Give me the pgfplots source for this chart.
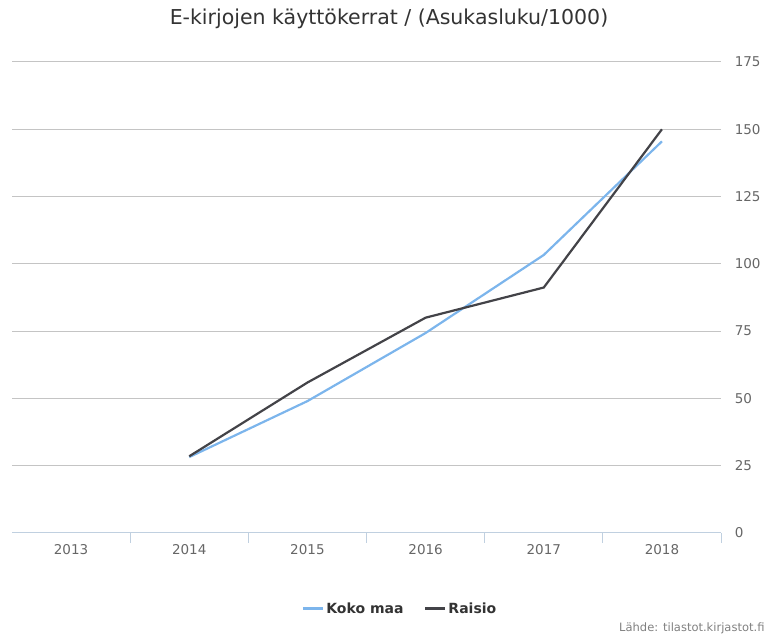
\documentclass[border=0pt]{standalone}
\usepackage{fontspec}
\setmainfont{DejaVu Sans}
\usepackage{pgfplots}
\pgfplotsset{compat=1.18}
\definecolor{kokomaa}{HTML}{7CB5EC}
\definecolor{raisio}{HTML}{434348}
\definecolor{gridc}{HTML}{C4C4C4}
\definecolor{axisc}{HTML}{C0D0E0}
\definecolor{txt}{HTML}{333333}
\definecolor{lbl}{HTML}{666666}
\begin{document}
\begin{tikzpicture}[x=1bp,y=1bp]
\path[use as bounding box] (0,0) rectangle (769,635);
\node[text=txt,font=\fontsize{20.5bp}{24bp}\selectfont] at (389,616) {E-kirjojen käyttökerrat / (Asukasluku/1000)};
\node[anchor=east,text=gray,font=\fontsize{11.5bp}{13bp}\selectfont] at (768,7) {Lähde: tilastot.kirjastot.fi};
\begin{axis}[
  at={(12bp,102bp)}, anchor=south west,
  width=709bp, height=471bp, scale only axis,
  xmin=-0.5, xmax=5.5, ymin=0, ymax=175,
  xtick={0,1,2,3,4,5},
  xticklabels={2013,2014,2015,2016,2017,2018},
  minor xtick={0.5,1.5,2.5,3.5,4.5,5.5},
  ytick={0,25,...,175},
  axis x line*=bottom,
  axis y line*=right,
  y axis line style={draw=none},
  x axis line style={draw=axisc, line width=1bp},
  major x tick style={draw=none},
  minor x tick style={draw=axisc, line width=1bp},
  minor tick length=10bp,
  tick align=outside,
  major y tick style={draw=none},
  ymajorgrids,
  major grid style={draw=gridc, line width=1bp},
  /pgf/number format/assume math mode=true,
  ticklabel style={text=lbl, font=\fontsize{13.5bp}{16bp}\selectfont},
  yticklabel style={anchor=west, xshift=6bp},
  xticklabel style={yshift=-4bp},
  legend columns=2,
  legend style={at={(0.547,-0.161)}, anchor=center, draw=none, fill=none,
    font=\fontsize{14bp}{17bp}\selectfont\bfseries, text=txt,
    /tikz/every even column/.append style={column sep=18bp}},
  legend image code/.code={\draw[#1, line width=3bp] (0bp,0bp) -- (20bp,0bp);},
]
\addplot[kokomaa, line width=2.2bp] coordinates {(1,28.2) (2,49.0) (3,74.3) (4,103.3) (5,145.5)};
\addlegendentry{Koko maa}
\addplot[raisio, line width=2.2bp] coordinates {(1,28.5) (2,55.9) (3,80.0) (4,91.2) (5,150.0)};
\addlegendentry{Raisio}
\end{axis}
\end{tikzpicture}
\end{document}
